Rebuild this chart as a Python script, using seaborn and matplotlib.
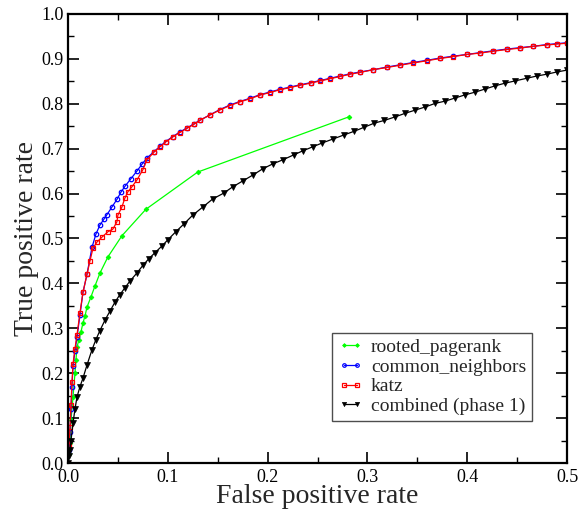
import numpy as np
import pandas as pd
import matplotlib
matplotlib.use("Agg")
import matplotlib.pyplot as plt
from matplotlib.ticker import MultipleLocator, FormatStrFormatter
import seaborn as sns

# values
pr_fpr = [0, 0.001, 0.002, 0.003, 0.005, 0.007, 0.008, 0.009, 0.011, 0.013, 0.015, 0.017,
          0.019, 0.023, 0.027, 0.032, 0.040, 0.054, 0.078, 0.130, 0.2815]
pr_tpr = [0, 0.02, 0.045, 0.096, 0.147, 0.200, 0.230, 0.258, 0.275, 0.292, 0.312, 0.327,
          0.347, 0.370, 0.394, 0.423, 0.459, 0.506, 0.565, 0.648, 0.771]

cn_fpr = [0, 0.001, 0.002, 0.003, 0.004, 0.005, 0.007, 0.009, 0.012, 0.015, 0.019, 0.024,
          0.028, 0.032, 0.036, 0.039, 0.044, 0.049, 0.053, 0.057, 0.063, 0.069, 0.074,
          0.079, 0.086, 0.092, 0.098, 0.105, 0.112, 0.119, 0.126, 0.132, 0.142, 0.152,
          0.162, 0.172, 0.182, 0.192, 0.202, 0.212, 0.222, 0.232, 0.243, 0.253, 0.263,
          0.273, 0.283, 0.293, 0.306, 0.320, 0.333, 0.346, 0.360, 0.373, 0.386, 0.400,
          0.413, 0.426, 0.440, 0.453, 0.466, 0.480, 0.490, 0.500]
cn_tpr = [0, 0.03, 0.07, 0.12, 0.17, 0.215, 0.25, 0.28, 0.33, 0.38, 0.42, 0.48,
          0.51, 0.53, 0.543, 0.553, 0.57, 0.587, 0.603, 0.616, 0.633, 0.65, 0.665,
          0.679, 0.693, 0.705, 0.716, 0.727, 0.737, 0.746, 0.755, 0.763, 0.775, 0.787,
          0.797, 0.805, 0.812, 0.820, 0.826, 0.832, 0.837, 0.842, 0.847, 0.852, 0.857,
          0.862, 0.867, 0.871, 0.876, 0.882, 0.887, 0.892, 0.897, 0.902, 0.906, 0.910,
          0.914, 0.918, 0.922, 0.925, 0.928, 0.932, 0.934, 0.936]

katz_fpr = [0, 0.001, 0.002, 0.003, 0.004, 0.005, 0.007, 0.009, 0.012, 0.015, 0.019, 0.022,
            0.025, 0.029, 0.034, 0.040, 0.045, 0.049, 0.050, 0.054, 0.057, 0.060, 0.064,
            0.069, 0.075, 0.079, 0.086, 0.092, 0.098, 0.105, 0.112, 0.119, 0.126, 0.132,
            0.142, 0.152, 0.162, 0.172, 0.182, 0.192, 0.202, 0.212, 0.222, 0.232, 0.243,
            0.253, 0.263, 0.273, 0.283, 0.293, 0.306, 0.320, 0.333, 0.346, 0.360, 0.373,
            0.386, 0.400, 0.413, 0.426, 0.440, 0.453, 0.466, 0.480, 0.490, 0.500]
katz_tpr = [0, 0.04, 0.08, 0.13, 0.18, 0.22, 0.255, 0.285, 0.335, 0.38, 0.42, 0.45,
            0.478, 0.492, 0.503, 0.515, 0.521, 0.537, 0.552, 0.570, 0.590, 0.604, 0.615,
            0.630, 0.653, 0.675, 0.692, 0.704, 0.715, 0.726, 0.736, 0.745, 0.754, 0.763,
            0.775, 0.786, 0.796, 0.804, 0.811, 0.819, 0.825, 0.831, 0.836, 0.841, 0.846,
            0.851, 0.856, 0.861, 0.866, 0.870, 0.876, 0.881, 0.886, 0.891, 0.896, 0.901,
            0.905, 0.910, 0.913, 0.917, 0.921, 0.924, 0.928, 0.931, 0.933, 0.935]

comb_fpr = [0, 0.001, 0.002, 0.003, 0.005, 0.007, 0.009, 0.012, 0.015, 0.019, 0.024, 0.028,
            0.032, 0.037, 0.042, 0.047, 0.052, 0.057, 0.062, 0.069, 0.075, 0.081, 0.087,
            0.094, 0.100, 0.108, 0.116, 0.125, 0.135, 0.145, 0.156, 0.165, 0.175, 0.185,
            0.195, 0.205, 0.215, 0.226, 0.235, 0.245, 0.255, 0.266, 0.277, 0.287, 0.297,
            0.307, 0.317, 0.328, 0.338, 0.348, 0.358, 0.368, 0.378, 0.388, 0.398, 0.408,
            0.418, 0.428, 0.438, 0.448, 0.460, 0.470, 0.480, 0.490, 0.500]
comb_tpr = [0, 0.015, 0.03, 0.05, 0.089, 0.12, 0.147, 0.17, 0.189, 0.218, 0.252, 0.275,
            0.295, 0.318, 0.338, 0.358, 0.375, 0.390, 0.405, 0.423, 0.440, 0.455, 0.468,
            0.483, 0.497, 0.515, 0.532, 0.552, 0.570, 0.588, 0.601, 0.615, 0.628, 0.641,
            0.655, 0.666, 0.675, 0.686, 0.695, 0.704, 0.713, 0.722, 0.731, 0.739, 0.748,
            0.757, 0.763, 0.771, 0.779, 0.786, 0.793, 0.801, 0.806, 0.813, 0.820, 0.826,
            0.833, 0.840, 0.846, 0.851, 0.857, 0.862, 0.866, 0.871, 0.875]

sns.set_theme(style="ticks")
plt.rcParams['font.family'] = ['Liberation Serif', 'DejaVu Serif']

fig = plt.figure(figsize=(5.82, 5.12), dpi=100)
ax = fig.add_axes([68 / 582, 49 / 512, 499 / 582, 449 / 512])

sns.lineplot(x=pr_fpr, y=pr_tpr, ax=ax, sort=False, estimator=None, color="#00ff00",
             lw=0.9, marker="D", markersize=2.4, markeredgewidth=0.6,
             markerfacecolor="#00ff00", markeredgecolor="#00ff00", label="rooted_pagerank")
sns.lineplot(x=cn_fpr, y=cn_tpr, ax=ax, sort=False, estimator=None, color="#0000ff",
             lw=0.9, marker="o", markersize=3.2, markeredgewidth=0.9,
             markerfacecolor="none", markeredgecolor="#0000ff", label="common_neighbors")
sns.lineplot(x=katz_fpr, y=katz_tpr, ax=ax, sort=False, estimator=None, color="#ff0000",
             lw=0.9, marker="s", markersize=2.8, markeredgewidth=0.9,
             markerfacecolor="none", markeredgecolor="#ff0000", label="katz")
sns.lineplot(x=comb_fpr, y=comb_tpr, ax=ax, sort=False, estimator=None, color="black",
             lw=0.9, marker="v", markersize=3.8, markeredgewidth=0.5,
             markerfacecolor="black", markeredgecolor="black", label="combined (phase 1)")

ax.set_xlim(0, 0.5)
ax.set_ylim(0, 1.0)
ax.xaxis.set_major_locator(MultipleLocator(0.1))
ax.xaxis.set_minor_locator(MultipleLocator(0.05))
ax.yaxis.set_major_locator(MultipleLocator(0.1))
ax.yaxis.set_minor_locator(MultipleLocator(0.05))
ax.xaxis.set_major_formatter(FormatStrFormatter('%.1f'))
ax.yaxis.set_major_formatter(FormatStrFormatter('%.1f'))
ax.tick_params(which='both', direction='in', top=True, right=True, colors='black',
               labelsize=13)
ax.tick_params(which='major', length=8, width=1.2)
ax.tick_params(axis='x', which='major', pad=4)
ax.tick_params(axis='y', which='major', pad=3)
ax.tick_params(which='minor', length=4, width=1.0)
for s in ax.spines.values():
    s.set_linewidth(1.6)
    s.set_color('black')

ax.set_xlabel("False positive rate", fontsize=20, labelpad=-1)
ax.set_ylabel("True positive rate", fontsize=20, labelpad=2)

leg = ax.legend(loc='upper left', bbox_to_anchor=(0.529, 0.290), fontsize=14,
                numpoints=2, handlelength=1.3, handletextpad=0.4, labelspacing=0.1,
                borderpad=0.3, borderaxespad=0, frameon=True, fancybox=False,
                framealpha=1, markerscale=0.8)
leg.get_frame().set_edgecolor('0.3')
leg.get_frame().set_linewidth(1.0)

fig.savefig("out.png", dpi=100)
